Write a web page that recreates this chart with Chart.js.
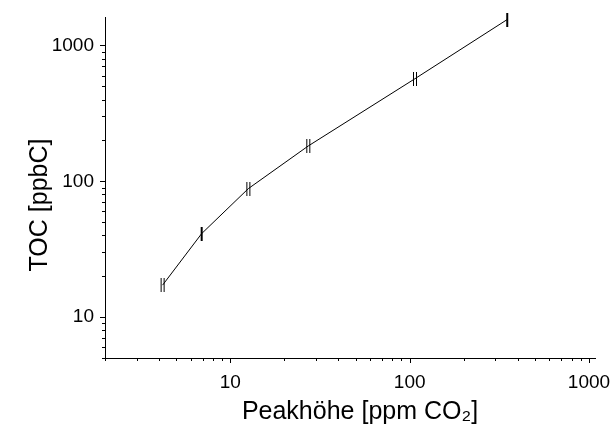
<!DOCTYPE html>
<html>
<head>
<meta charset="utf-8">
<script src="https://cdn.jsdelivr.net/npm/chart.js@4/dist/chart.umd.min.js"></script>
<style>
  html, body { margin: 0; padding: 0; background: #fff; }
  #wrap { width: 614px; height: 432px; }
</style>
</head>
<body>
<div id="wrap"><canvas id="chart"></canvas></div>
<script>
// Calibration data (log-log)
const peakHeight = [4.19, 6.92, 12.6, 27.2, 107, 350];   // ppm CO2
const tocValues  = [17.2, 41.2, 88.3, 182, 569, 1552];   // ppbC
const xMajorTicks = [10, 100, 1000];
const yMajorTicks = [10, 100, 1000];
const xRange = [2, 1080];
const yRange = [5, 1620];
const xTitle = 'Peakhöhe [ppm CO₂]';
const yTitle = 'TOC [ppbC]';

const FONT = "'Liberation Sans', Arial, sans-serif";

// small vertical error-bar markers, some drawn doubled like the original
function barMarker(double) {
    const c = document.createElement('canvas');
    c.width = 6;
    c.height = 14;
    const g = c.getContext('2d');
    g.fillStyle = '#000';
    if (double) {
        g.fillRect(1, 0, 1, 14);
        g.fillRect(4, 0, 1, 14);
    } else {
        g.fillRect(2, 0, 2, 14);
    }
    return c;
}
const single = barMarker(false);
const dbl = barMarker(true);

// 1..9 x 10^k inside the range, for major + minor tick marks
function logTicks(min, max) {
    const out = [];
    for (let e = Math.floor(Math.log10(min)); e <= Math.ceil(Math.log10(max)); e++) {
        for (let d = 1; d <= 9; d++) {
            const v = d * Math.pow(10, e);
            if (v >= min - 1e-9 && v <= max + 1e-9) out.push(v);
        }
    }
    return out;
}

// outward tick marks: long for decades, short for the rest
const tickMarks = {
    id: 'tickMarks',
    afterDraw(chart) {
        const ctx = chart.ctx;
        const xs = chart.scales.x;
        const ys = chart.scales.y;
        ctx.save();
        ctx.strokeStyle = '#000';
        ctx.lineWidth = 1;
        xs.ticks.forEach(t => {
            const px = Math.round(xs.getPixelForValue(t.value)) + 0.5;
            const len = xMajorTicks.includes(t.value) ? 5 : 3;
            ctx.beginPath();
            ctx.moveTo(px, xs.top);
            ctx.lineTo(px, xs.top + len);
            ctx.stroke();
        });
        ys.ticks.forEach(t => {
            const py = Math.round(ys.getPixelForValue(t.value)) + 0.5;
            const len = yMajorTicks.includes(t.value) ? 5 : 3;
            ctx.beginPath();
            ctx.moveTo(ys.right, py);
            ctx.lineTo(ys.right - len, py);
            ctx.stroke();
        });
        ctx.restore();
    }
};

// axis titles, placed where the original has them (not centred on the plot area)
const axisTitles = {
    id: 'axisTitles',
    afterDraw(chart) {
        const ctx = chart.ctx;
        ctx.save();
        ctx.fillStyle = '#000';
        ctx.font = '25px ' + FONT;
        ctx.textAlign = 'center';
        ctx.textBaseline = 'middle';
        ctx.fillText(xTitle, 360, 412);
        ctx.translate(40, 205);
        ctx.rotate(-Math.PI / 2);
        ctx.fillText(yTitle, 0, 0);
        ctx.restore();
    }
};

const ctx = document.getElementById('chart').getContext('2d');
new Chart(ctx, {
    type: 'line',
    data: {
        datasets: [{
            data: peakHeight.map((x, i) => ({ x: x, y: tocValues[i] })),
            borderColor: '#000',
            borderWidth: 1,
            pointStyle: [dbl, single, dbl, dbl, dbl, single],
            pointRadius: 7,
            tension: 0,
            fill: false,
            clip: false
        }]
    },
    options: {
        responsive: true,
        maintainAspectRatio: false,
        animation: false,
        layout: { padding: { top: 17, right: 19, left: 0, bottom: 0 } },
        plugins: {
            legend: { display: false },
            tooltip: { enabled: false }
        },
        scales: {
            x: {
                type: 'logarithmic',
                min: xRange[0],
                max: xRange[1],
                afterBuildTicks: s => { s.ticks = logTicks(xRange[0], xRange[1]).map(v => ({ value: v })); },
                afterFit: s => { s.height = 74; s.paddingLeft = 0; s.paddingRight = 0; },
                grid: { display: false, drawTicks: false },
                border: { display: true, color: '#000', width: 1 },
                ticks: {
                    autoSkip: false,
                    maxRotation: 0,
                    padding: 13,
                    color: '#000',
                    font: { family: FONT, size: 19 },
                    callback: v => xMajorTicks.includes(v) ? String(v) : ''
                }
            },
            y: {
                type: 'logarithmic',
                min: yRange[0],
                max: yRange[1],
                afterBuildTicks: s => { s.ticks = logTicks(yRange[0], yRange[1]).map(v => ({ value: v })); },
                afterFit: s => { s.width = 105; s.paddingTop = 0; s.paddingBottom = 0; },
                grid: { display: false, drawTicks: false },
                border: { display: true, color: '#000', width: 1 },
                ticks: {
                    autoSkip: false,
                    padding: 11,
                    color: '#000',
                    font: { family: FONT, size: 19 },
                    callback: v => yMajorTicks.includes(v) ? String(v) : ''
                }
            }
        }
    },
    plugins: [tickMarks, axisTitles]
});
</script>
</body>
</html>
